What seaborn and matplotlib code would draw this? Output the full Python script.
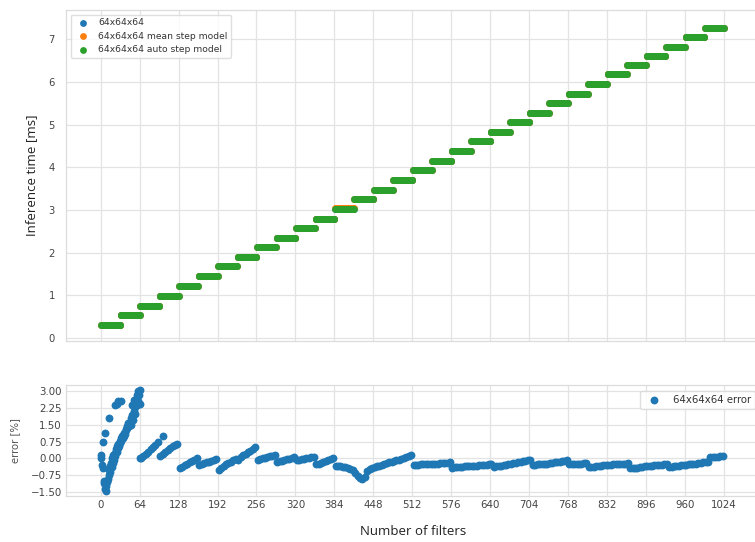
import numpy as np
import pandas as pd
import matplotlib
matplotlib.use("Agg")
import matplotlib.pyplot as plt
import seaborn as sns

# ---------------- data ----------------
# step models (ms) for each block of 32 filters (1..1024)
auto_step_ms = [0.31, 0.53, 0.76, 0.98, 1.22, 1.45, 1.68, 1.90,
                2.13, 2.35, 2.58, 2.80, 3.03, 3.25, 3.48, 3.70,
                3.93, 4.15, 4.38, 4.61, 4.83, 5.06, 5.28, 5.51,
                5.73, 5.96, 6.18, 6.41, 6.61, 6.83, 7.05, 7.27]
mean_step_ms = [0.31, 0.54, 0.76, 0.99, 1.22, 1.46, 1.68, 1.90,
                2.13, 2.35, 2.58, 2.80, 3.04, 3.25, 3.48, 3.70,
                3.93, 4.15, 4.38, 4.61, 4.83, 5.06, 5.28, 5.51,
                5.73, 5.96, 6.18, 6.41, 6.61, 6.83, 7.05, 7.27]
measured_ms = [0.31, 0.53, 0.76, 0.98, 1.23, 1.45, 1.68, 1.90,
               2.13, 2.35, 2.58, 2.80, 3.03, 3.25, 3.48, 3.70,
               3.93, 4.15, 4.38, 4.61, 4.83, 5.06, 5.28, 5.51,
               5.73, 5.96, 6.18, 6.41, 6.61, 6.83, 7.05, 7.27]
block_size = 32

# error [%], first 64 filters
start_x = [1, 1, 2, 4, 5, 6, 7, 8, 10]
start_err = [0.15, 0.0, -0.3, -0.45, -1.0, -1.1, -1.35, -1.45, -1.05]

upper_x = [3, 7, 14, 23, 26, 29, 33]
upper_err = [0.75, 1.12, 1.8, 2.4, 2.45, 2.55, 2.55]

rise_x = [12, 14, 16, 18, 20, 22, 24, 26, 28, 30, 32, 34, 36, 38,
          40, 42, 44, 46, 48, 50, 52, 54, 56, 58, 60, 62, 64]
rise_err = [-0.9, -0.75, -0.6, -0.4, -0.2, -0.05, 0.1, 0.3, 0.45, 0.55,
            0.7, 0.8, 0.9, 1.0, 1.1, 1.25, 1.35, 1.45, 1.6, 1.8, 1.95,
            2.1, 2.3, 2.6, 2.85, 3.0, 3.05]

inner_x = [9, 11, 13, 15, 17, 19, 21, 23, 25, 27, 29, 31, 33, 35, 37, 39,
           41, 43, 45, 47, 49, 51, 53, 55, 57, 59, 61, 63, 64, 65, 102]
inner_err = [-1.25, -1.0, -0.5, -0.35, -0.2, 0.0, 0.15, 0.25, 0.4, 0.55,
             0.65, 0.8, 0.9, 1.0, 1.05, 1.15, 1.3, 1.45, 1.6, 1.55, 1.5,
             2.4, 1.7, 2.6, 2.0, 2.4, 2.55, 2.85, 2.45, 0.0, 1.0]

# error [%] from filter 66 to 1022, every 4 filters
late_start, late_stop, late_stride = 66, 1024, 4
late_err = [
    0.0, 0.1, 0.2, 0.3, 0.42, 0.52, 0.62, 0.72,
    0.12, 0.2, 0.28, 0.36, 0.45, 0.55, 0.62, 0.65,
    -0.45, -0.38, -0.3, -0.25, -0.18, -0.12, -0.05, 0.0,
    -0.3, -0.27, -0.22, -0.18, -0.14, -0.1, -0.06, -0.03,
    -0.52, -0.42, -0.33, -0.27, -0.2, -0.14, -0.08, -0.03,
    -0.05, 0.05, 0.13, 0.2, 0.28, 0.35, 0.43, 0.52,
    -0.05, -0.03, 0.0, 0.03, 0.06, 0.09, 0.12, 0.15,
    -0.17, -0.13, -0.1, -0.07, -0.04, -0.01, 0.02, 0.05,
    -0.08, -0.06, -0.03, -0.01, 0.01, 0.03, 0.05, 0.07,
    -0.27, -0.23, -0.19, -0.15, -0.11, -0.07, -0.03, 0.0,
    -0.32, -0.34, -0.36, -0.38, -0.4, -0.43, -0.46, -0.5,
    -0.65, -0.8, -0.88, -0.9, -0.85, -0.55, -0.48, -0.44,
    -0.4, -0.36, -0.32, -0.28, -0.24, -0.2, -0.17, -0.14,
    -0.11, -0.08, -0.05, -0.02, 0.01, 0.05, 0.09, 0.13,
    -0.3, -0.29, -0.28, -0.27, -0.26, -0.25, -0.24, -0.23,
    -0.26, -0.25, -0.23, -0.22, -0.21, -0.2, -0.19, -0.17,
    -0.42, -0.4, -0.39, -0.38, -0.37, -0.36, -0.35, -0.34,
    -0.34, -0.33, -0.32, -0.31, -0.3, -0.29, -0.28, -0.27,
    -0.27, -0.38, -0.36, -0.34, -0.32, -0.3, -0.28, -0.26,
    -0.24, -0.22, -0.19, -0.17, -0.15, -0.12, -0.1, -0.08,
    -0.06, -0.3, -0.29, -0.27, -0.26, -0.25, -0.24, -0.23,
    -0.22, -0.2, -0.18, -0.16, -0.14, -0.12, -0.1, -0.08,
    -0.25, -0.25, -0.24, -0.24, -0.23, -0.23, -0.22, -0.22,
    -0.4, -0.39, -0.37, -0.36, -0.34, -0.33, -0.31, -0.3,
    -0.29, -0.28, -0.27, -0.26, -0.25, -0.24, -0.23, -0.23,
    -0.22, -0.45, -0.44, -0.42, -0.41, -0.39, -0.38, -0.36,
    -0.35, -0.34, -0.33, -0.31, -0.3, -0.29, -0.28, -0.27,
    -0.25, -0.38, -0.37, -0.35, -0.34, -0.33, -0.31, -0.3,
    -0.29, -0.27, -0.26, -0.24, -0.23, -0.21, -0.2, -0.18,
    -0.16, -0.15, 0.05, 0.06, 0.07, 0.08, 0.09, 0.1,
]

x_ticks = [0, 64, 128, 192, 256, 320, 384, 448, 512, 576, 640, 704,
           768, 832, 896, 960, 1024]
err_ticks = [-1.5, -0.75, 0.0, 0.75, 1.5, 2.25, 3.0]
time_ticks = [0, 1, 2, 3, 4, 5, 6, 7]

# ---------------- build frames ----------------
filters = np.arange(1, block_size * len(auto_step_ms) + 1)
df_model = pd.DataFrame({
    "filters": filters,
    "measured": np.repeat(measured_ms, block_size),
    "mean": np.repeat(mean_step_ms, block_size),
    "auto": np.repeat(auto_step_ms, block_size),
})

late_x = list(range(late_start, late_stop, late_stride))
df_err = pd.DataFrame({
    "filters": start_x + upper_x + rise_x + inner_x + late_x,
    "err": start_err + upper_err + rise_err + inner_err + late_err,
})

# ---------------- style ----------------
sns.set_theme(style="whitegrid")
plt.rcParams["font.family"] = ["DejaVu Sans"]

blue, orange, green = "#1f77b4", "#ff7f0e", "#2ca02c"
tick_color = "#444444"
grid_color = "#e3e3e3"

fig = plt.figure(figsize=(7.55, 5.42), dpi=100)
W, H = 755, 542
ax_l, ax_r = 66, 761
ax1 = fig.add_axes([ax_l / W, 1 - 341 / H, (ax_r - ax_l) / W, (341 - 10) / H])
ax2 = fig.add_axes([ax_l / W, 1 - 496 / H, (ax_r - ax_l) / W, (496 - 385) / H])

ms = 24
sns.scatterplot(data=df_model, x="filters", y="measured", ax=ax1, color=blue,
                s=ms, linewidth=0, label="64x64x64")
sns.scatterplot(data=df_model, x="filters", y="mean", ax=ax1, color=orange,
                s=ms, linewidth=0, label="64x64x64 mean step model")
sns.scatterplot(data=df_model, x="filters", y="auto", ax=ax1, color=green,
                s=ms, linewidth=0, label="64x64x64 auto step model")

sns.scatterplot(data=df_err, x="filters", y="err", ax=ax2, color=blue,
                s=32, linewidth=0, label="64x64x64 error")

xlim = (-57, 1085)
for ax in (ax1, ax2):
    ax.set_xlim(*xlim)
    ax.set_xticks(x_ticks)
    ax.grid(True, color=grid_color, linewidth=0.9)
    for sp in ax.spines.values():
        sp.set_color("#dcdcdc")
        sp.set_linewidth(0.9)

ax1.set_ylim(-0.07, 7.69)
ax1.set_yticks(time_ticks)
ax1.tick_params(axis="x", labelbottom=False, length=0)
ax1.tick_params(axis="y", labelsize=7.2, colors=tick_color, pad=8, length=0)
ax1.set_xlabel("")
ax1.set_ylabel("Inference time [ms]", fontsize=9.5, color="#222222",
               family="Open Sans")
ax1.yaxis.set_label_coords(-0.040, 0.5)

ax2.set_ylim(-1.68, 3.28)
ax2.set_yticks(err_ticks)
ax2.set_yticklabels([f"{v:.2f}".replace("-", "\u2212") for v in err_ticks])
ax2.tick_params(axis="both", labelsize=7.4, colors=tick_color, pad=3, length=0)
ax2.set_xlabel("Number of filters", fontsize=9.5, color="#222222",
               family="Open Sans", labelpad=11)
ax2.set_ylabel("error [%]", fontsize=7.3, color="#555555")
ax2.yaxis.set_label_coords(-0.066, 0.5)

leg1 = ax1.legend(loc="upper left", fontsize=6.6, frameon=True,
                  borderaxespad=0.5, handletextpad=0.6)
leg1.get_frame().set_edgecolor("#d8d8d8")
for t in leg1.get_texts():
    t.set_color("#333333")
leg2 = ax2.legend(loc="upper right", fontsize=7.3, frameon=True,
                  borderaxespad=0.6, handletextpad=0.8)
leg2.get_frame().set_edgecolor("#d8d8d8")
for t in leg2.get_texts():
    t.set_color("#333333")

fig.savefig("out.png", dpi=100)
